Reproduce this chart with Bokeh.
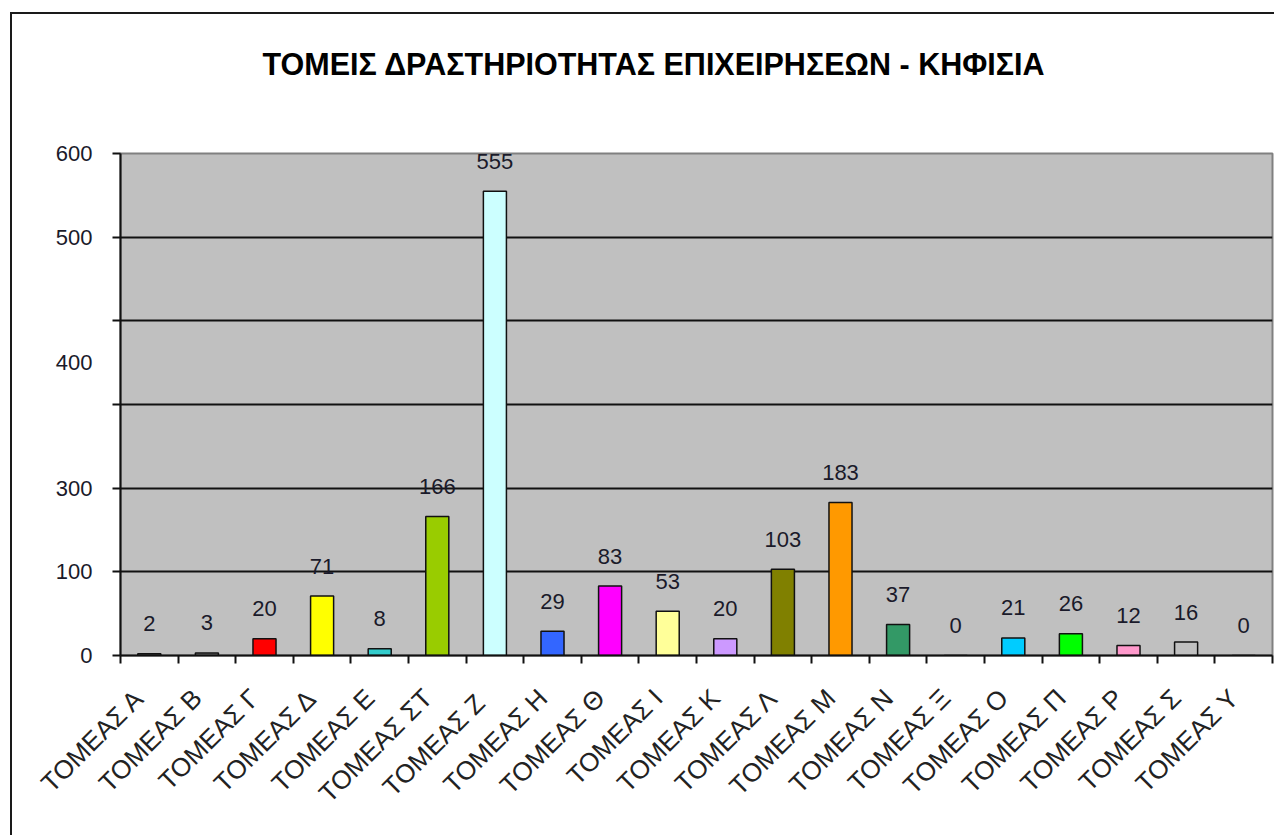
import numpy as np
from bokeh.plotting import figure
from bokeh.models import ColumnDataSource, Range1d, FixedTicker, Title
from bokeh.embed import file_html
from bokeh.resources import INLINE

categories = ["ΤΟΜΕΑΣ Α", "ΤΟΜΕΑΣ Β", "ΤΟΜΕΑΣ Γ", "ΤΟΜΕΑΣ Δ", "ΤΟΜΕΑΣ Ε",
              "ΤΟΜΕΑΣ ΣΤ", "ΤΟΜΕΑΣ  Ζ", "ΤΟΜΕΑΣ Η", "ΤΟΜΕΑΣ Θ", "ΤΟΜΕΑΣ Ι",
              "ΤΟΜΕΑΣ Κ", "ΤΟΜΕΑΣ Λ", "ΤΟΜΕΑΣ Μ", "ΤΟΜΕΑΣ Ν", "ΤΟΜΕΑΣ Ξ",
              "ΤΟΜΕΑΣ Ο", "ΤΟΜΕΑΣ Π", "ΤΟΜΕΑΣ Ρ", "ΤΟΜΕΑΣ Σ", "ΤΟΜΕΑΣ Υ"]
values = [2, 3, 20, 71, 8, 166, 555, 29, 83, 53, 20, 103, 183, 37, 0, 21, 26, 12, 16, 0]
colors = ["#808080", "#808080", "#ff0000", "#ffff00", "#33cccc", "#99cc00", "#ccffff",
          "#3366ff", "#ff00ff", "#ffff99", "#cc99ff", "#808000", "#ff9900", "#339966",
          "#c0c0c0", "#00ccff", "#00ff00", "#ff99cc", "#c0c0c0", "#c0c0c0"]
grid_values = [0, 100, 200, 300, 400, 500, 600]
y_label_positions = [0, 100, 200, 350, 500, 600]
y_label_texts = ["0", "100", "300", "400", "500", "600"]
title_text = "ΤΟΜΕΙΣ ΔΡΑΣΤΗΡΙΟΤΗΤΑΣ ΕΠΙΧΕΙΡΗΣΕΩΝ - ΚΗΦΙΣΙΑ"

n = len(categories)
xs = np.arange(n) + 0.5
label_xs = [round(float(x) - 0.17, 3) for x in xs]  # rotated labels sit slightly left

src = ColumnDataSource(dict(x=xs, top=values, color=colors,
                            label=[str(v) for v in values]))

p = figure(width=1264, height=823, output_backend="svg", toolbar_location=None,
           x_range=Range1d(0, n), y_range=Range1d(0, 600),
           min_border_left=108, min_border_right=4, min_border_top=139,
           min_border_bottom=182, background_fill_color="#c0c0c0",
           border_fill_color="white")
p.styles = {"border-left": "2px solid #1a1a1a", "border-top": "2px solid #1a1a1a",
            "margin-left": "10px", "margin-top": "12px"}

# second (blank) line lifts the title higher above the plot area
t = Title(text=title_text + "\n ", align="left", offset=142, text_font="Liberation Sans",
          text_font_size="30.5px", text_font_style="bold", text_color="#000000",
          standoff=56, text_line_height=1.32)
p.add_layout(t, "above")

p.outline_line_color = "#808080"
p.outline_line_width = 2

p.vbar(x="x", top="top", width=0.4, bottom=0, fill_color="color",
       line_color="#111111", line_width=1.5, source=src)
p.text(x="x", y="top", text="label", source=src, text_align="center",
       text_baseline="middle", y_offset=-30, text_font_size="22px",
       text_color="#1a1a2a", text_font={"value": "Liberation Sans"})

# grid
p.xgrid.visible = False
p.ygrid.ticker = FixedTicker(ticks=grid_values[1:-1])
p.ygrid.grid_line_color = "#111111"
p.ygrid.grid_line_width = 2

# y axis: labels (as in the reference) not all on the grid lines
ya = p.yaxis[0]
ya.ticker = FixedTicker(ticks=y_label_positions, minor_ticks=grid_values)
ya.major_label_overrides = {v: s for v, s in zip(y_label_positions, y_label_texts)}
ya.major_label_text_font = "Liberation Sans"
ya.major_label_text_font_size = "22px"
ya.major_label_text_color = "#1a1a2a"
ya.major_tick_out = 0
ya.major_tick_in = 0
ya.minor_tick_out = 8
ya.minor_tick_in = 0
ya.minor_tick_line_width = 2
ya.minor_tick_line_color = "#111111"
ya.axis_line_width = 2
ya.axis_line_color = "#111111"
ya.major_label_standoff = 20

# x axis
xa = p.xaxis[0]
xa.ticker = FixedTicker(ticks=label_xs, minor_ticks=list(range(n + 1)))
xa.major_label_overrides = {x: c for x, c in zip(label_xs, categories)}
xa.major_label_orientation = np.pi / 4
xa.major_label_text_font = "Liberation Sans"
xa.major_label_text_font_size = "26px"
xa.major_label_text_color = "#222222"
xa.major_tick_out = 0
xa.major_tick_in = 0
xa.minor_tick_out = 8
xa.minor_tick_in = 0
xa.minor_tick_line_width = 2
xa.minor_tick_line_color = "#111111"
xa.axis_line_width = 2
xa.axis_line_color = "#111111"
xa.major_label_standoff = 30

open("out.html", "w").write(file_html(p, INLINE))
